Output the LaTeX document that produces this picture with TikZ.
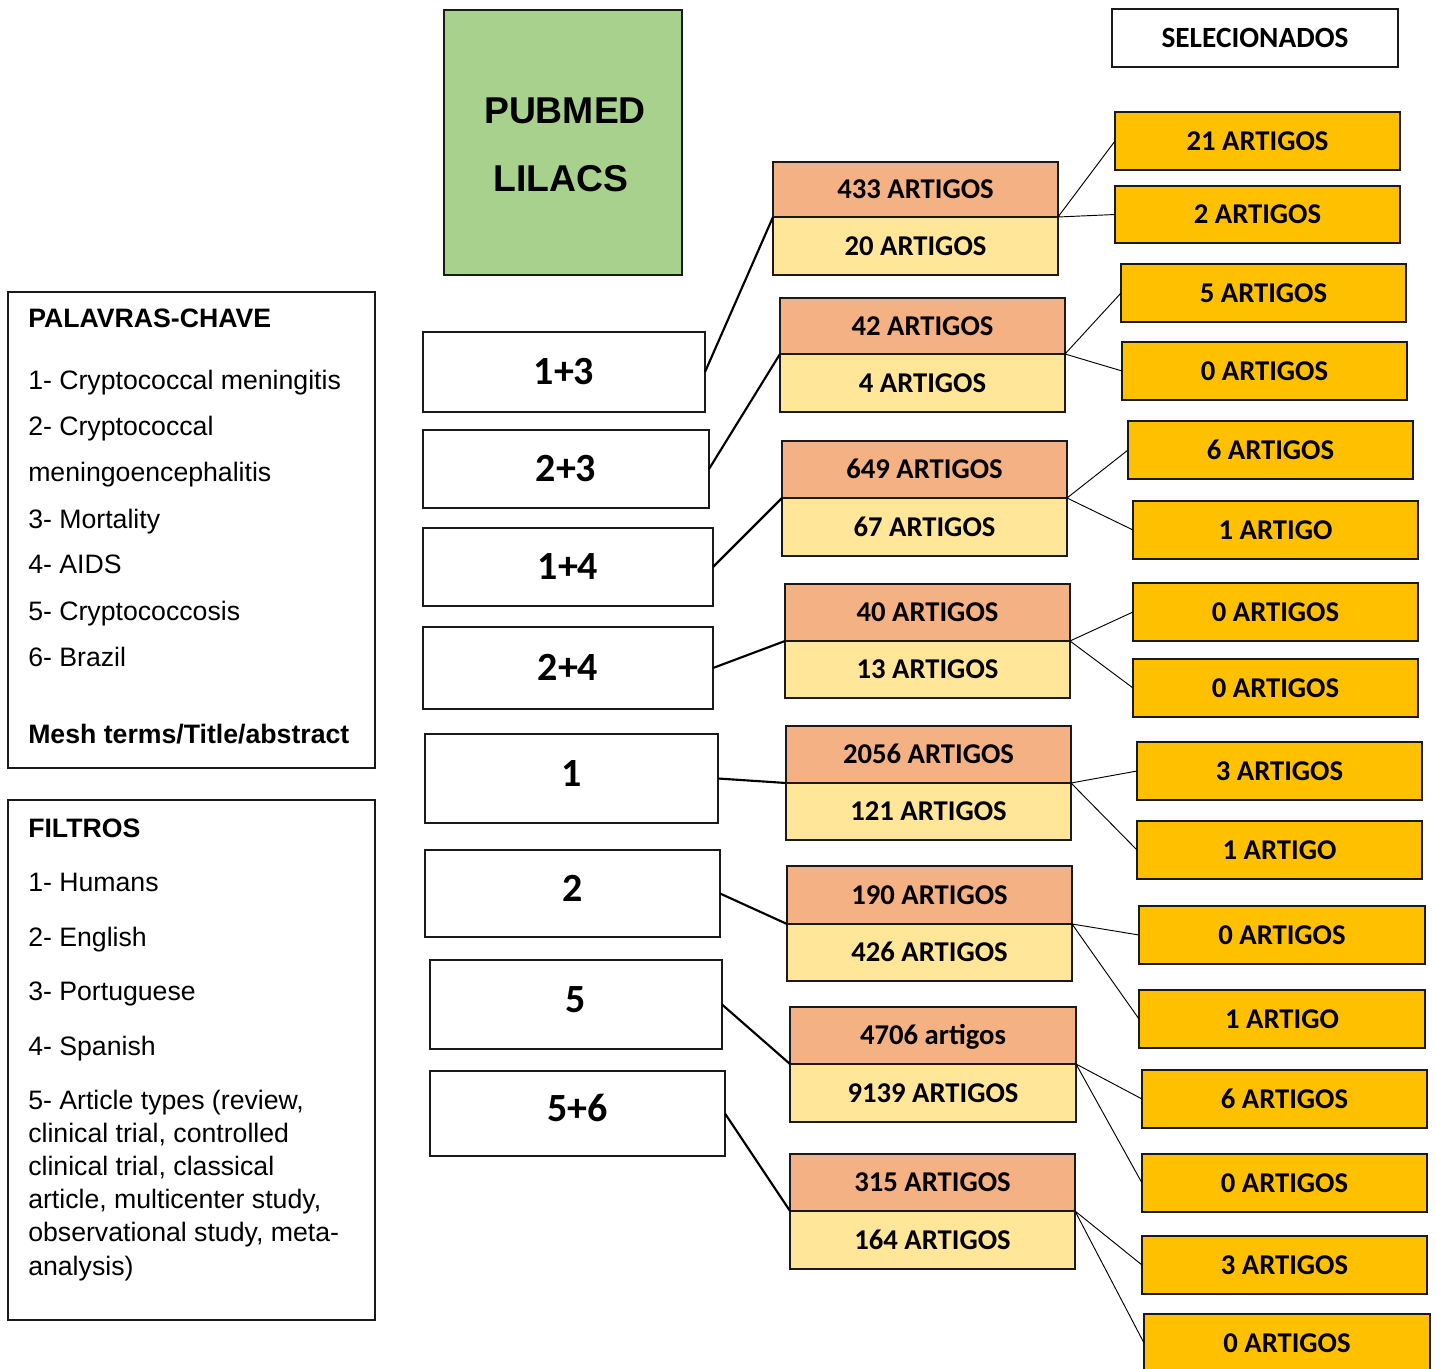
\documentclass[tikz,border=0pt]{standalone}
\usepackage{fontspec}
\setmainfont{Liberation Sans}
\newfontfamily\calfont{Carlito}
\definecolor{salmon}{HTML}{F4B183}
\definecolor{lyellow}{HTML}{FFE699}
\definecolor{gold}{HTML}{FFC000}
\definecolor{lgreen}{HTML}{A9D18E}
\definecolor{edge}{HTML}{1A1A1A}
\newcommand\bnode[7]{%
 \pgfmathsetmacro\cx{(#3+#5)/2}\pgfmathsetmacro\cy{(#4+#6)/2}%
 \pgfmathsetmacro\ww{(#5-#3)*0.75}\pgfmathsetmacro\hh{(#6-#4)*0.75}%
 \node[#2, minimum width=\ww pt, minimum height=\hh pt] (#1) at (\cx,\cy) {#7};}
\begin{document}
\begin{tikzpicture}[x=0.75pt,y=-0.75pt,
  boxbase/.style={draw=edge, line width=1.2pt, inner sep=0pt, outer sep=0pt, text depth=0pt},
  lbox/.style={boxbase, fill=white, text height=19.3pt, font=\calfont\bfseries\fontsize{30}{34}\selectfont},
  lboxhi/.style={lbox, text depth=7.5pt},
  tbox/.style={boxbase, fill=salmon, text height=13.85pt, font=\calfont\bfseries\fontsize{21.5}{24}\selectfont},
  bbox/.style={boxbase, fill=lyellow, text height=13.85pt, font=\calfont\bfseries\fontsize{21.5}{24}\selectfont},
  rbox/.style={boxbase, fill=gold, text height=13.85pt, font=\calfont\bfseries\fontsize{21.5}{24}\selectfont},
  selbox/.style={draw=edge, line width=0.8pt, fill=white, inner sep=0pt, outer sep=0pt, text height=14.2pt, text depth=0pt, font=\calfont\bfseries\fontsize{22}{24}\selectfont},
  srcbox/.style={draw=edge, line width=1.2pt, fill=lgreen, inner sep=0pt, outer sep=0pt},
  infobox/.style={draw=edge, line width=1.2pt, fill=white, inner sep=0pt, outer sep=0pt},
  txt/.style={anchor=base west, inner sep=0pt, font=\fontsize{20}{24}\selectfont},
  btxt/.style={txt, font=\bfseries\fontsize{20}{24}\selectfont},
  bigtxt/.style={inner sep=0pt, font=\bfseries\fontsize{28}{32}\selectfont},
  link/.style={line width=1.6pt, draw=black},
  thin/.style={line width=0.7pt, draw=black}]
\useasboundingbox (0,0) rectangle (1436,1369);
\clip (0,0) rectangle (1436,1369);

% sources
\bnode{src}{srcbox}{444}{10}{682}{275}{}
\node[bigtxt] (pubmed) at (565,111) {PUBMED};
\node[bigtxt] (lilacs) at (561,179) {LILACS};
\bnode{sel}{selbox}{1112}{9}{1398}{67}{SELECIONADOS}

% keyword box
\bnode{kw}{infobox}{8}{292}{375}{768}{}
\node[btxt] (kwh) at (28,328) {PALAVRAS-CHAVE};
\node[txt] (kw1) at (28,390) {1- Cryptococcal meningitis};
\node[txt] (kw2) at (28,436) {2- Cryptococcal};
\node[txt] (kw2b) at (28,482) {meningoencephalitis};
\node[txt] (kw3) at (28,528) {3- Mortality};
\node[txt] (kw4) at (28,574) {4- AIDS};
\node[txt] (kw5) at (28,620) {5- Cryptococcosis};
\node[txt] (kw6) at (28,666) {6- Brazil};
\node[btxt] (kwm) at (28,743) {Mesh terms/Title/abstract};

% filter box
\bnode{fl}{infobox}{8}{800}{375}{1320}{}
\node[btxt] (flh) at (28,837) {FILTROS};
\node[txt] (fl1) at (28,891) {1- Humans};
\node[txt] (fl2) at (28,946) {2- English};
\node[txt] (fl3) at (28,1000) {3- Portuguese};
\node[txt] (fl4) at (28,1055) {4- Spanish};
\node[txt] (fl5a) at (28,1109) {5- Article types (review,};
\node[txt] (fl5b) at (28,1142) {clinical trial, controlled};
\node[txt] (fl5c) at (28,1175) {clinical trial, classical};
\node[txt] (fl5d) at (28,1208) {article, multicenter study,};
\node[txt] (fl5e) at (28,1241) {observational study, meta-};
\node[txt] (fl5f) at (28,1275) {analysis)};

% combinations
\bnode{k13}{lbox}{423}{332}{705}{412}{1+3}
\bnode{k23}{lbox}{423}{430}{709}{508}{2+3}
\bnode{k14}{lbox}{423}{528}{713}{606}{1+4}
\bnode{k24}{lbox}{423}{627}{713}{709}{2+4}
\bnode{k1}{lboxhi}{425}{734}{718}{823}{1}
\bnode{k2}{lboxhi}{425}{850}{720}{937}{2}
\bnode{k5}{lboxhi}{430}{960}{722}{1049}{5}
\bnode{k56}{lboxhi}{430}{1071}{725}{1156}{5+6}

% results
\bnode{m1t}{tbox}{773}{162}{1058}{217}{433 ARTIGOS}
\bnode{m1b}{bbox}{773}{217}{1058}{275}{20 ARTIGOS}
\bnode{m2t}{tbox}{780}{298}{1065}{354}{42 ARTIGOS}
\bnode{m2b}{bbox}{780}{354}{1065}{412}{4 ARTIGOS}
\bnode{m3t}{tbox}{782}{441}{1067}{498}{649 ARTIGOS}
\bnode{m3b}{bbox}{782}{498}{1067}{556}{67 ARTIGOS}
\bnode{m4t}{tbox}{785}{584}{1070}{641}{40 ARTIGOS}
\bnode{m4b}{bbox}{785}{641}{1070}{698}{13 ARTIGOS}
\bnode{m5t}{tbox}{786}{726}{1071}{783}{2056 ARTIGOS}
\bnode{m5b}{bbox}{786}{783}{1071}{840}{121 ARTIGOS}
\bnode{m6t}{tbox}{787}{866}{1072}{924}{190 ARTIGOS}
\bnode{m6b}{bbox}{787}{924}{1072}{981}{426 ARTIGOS}
\bnode{m7t}{tbox}{790}{1007}{1076}{1064}{4706 artigos}
\bnode{m7b}{bbox}{790}{1064}{1076}{1122}{9139 ARTIGOS}
\bnode{m8t}{tbox}{790}{1154}{1075}{1211}{315 ARTIGOS}
\bnode{m8b}{bbox}{790}{1211}{1075}{1269}{164 ARTIGOS}

% selected
\bnode{r1}{rbox}{1115}{112}{1400}{170}{21 ARTIGOS}
\bnode{r2}{rbox}{1115}{186}{1400}{243}{2 ARTIGOS}
\bnode{r3}{rbox}{1121}{264}{1406}{322}{5 ARTIGOS}
\bnode{r4}{rbox}{1122}{342}{1407}{400}{0 ARTIGOS}
\bnode{r5}{rbox}{1128}{421}{1413}{479}{6 ARTIGOS}
\bnode{r6}{rbox}{1133}{501}{1418}{559}{1 ARTIGO}
\bnode{r7}{rbox}{1133}{583}{1418}{641}{0 ARTIGOS}
\bnode{r8}{rbox}{1133}{659}{1418}{717}{0 ARTIGOS}
\bnode{r9}{rbox}{1137}{742}{1422}{800}{3 ARTIGOS}
\bnode{r10}{rbox}{1137}{821}{1422}{879}{1 ARTIGO}
\bnode{r11}{rbox}{1139}{906}{1425}{964}{0 ARTIGOS}
\bnode{r12}{rbox}{1139}{990}{1425}{1048}{1 ARTIGO}
\bnode{r13}{rbox}{1142}{1070}{1427}{1128}{6 ARTIGOS}
\bnode{r14}{rbox}{1142}{1154}{1427}{1212}{0 ARTIGOS}
\bnode{r15}{rbox}{1142}{1236}{1427}{1294}{3 ARTIGOS}
\bnode{r16}{rbox}{1144}{1314}{1430}{1372}{0 ARTIGOS}

% links
\draw[link] (k13.east) -- (m1t.south west);
\draw[link] (k23.east) -- (m2t.south west);
\draw[link] (k14.east) -- (m3t.south west);
\draw[link] (k24.east) -- (m4t.south west);
\draw[link] (k1.east) -- (m5t.south west);
\draw[link] (k2.east) -- (m6t.south west);
\draw[link] (k5.east) -- (m7t.south west);
\draw[link] (k56.east) -- (m8t.south west);

\draw[thin] (r1.west) -- (m1t.south east) -- (r2.west);
\draw[thin] (r3.west) -- (m2t.south east) -- (r4.west);
\draw[thin] (r5.west) -- (m3t.south east) -- (r6.west);
\draw[thin] (r7.west) -- (m4t.south east) -- (r8.west);
\draw[thin] (r9.west) -- (m5t.south east) -- (r10.west);
\draw[thin] (r11.west) -- (m6t.south east) -- (r12.west);
\draw[thin] (r13.west) -- (m7t.south east) -- (r14.west);
\draw[thin] (r15.west) -- (m8t.south east) -- (r16.west);
\end{tikzpicture}
\end{document}
